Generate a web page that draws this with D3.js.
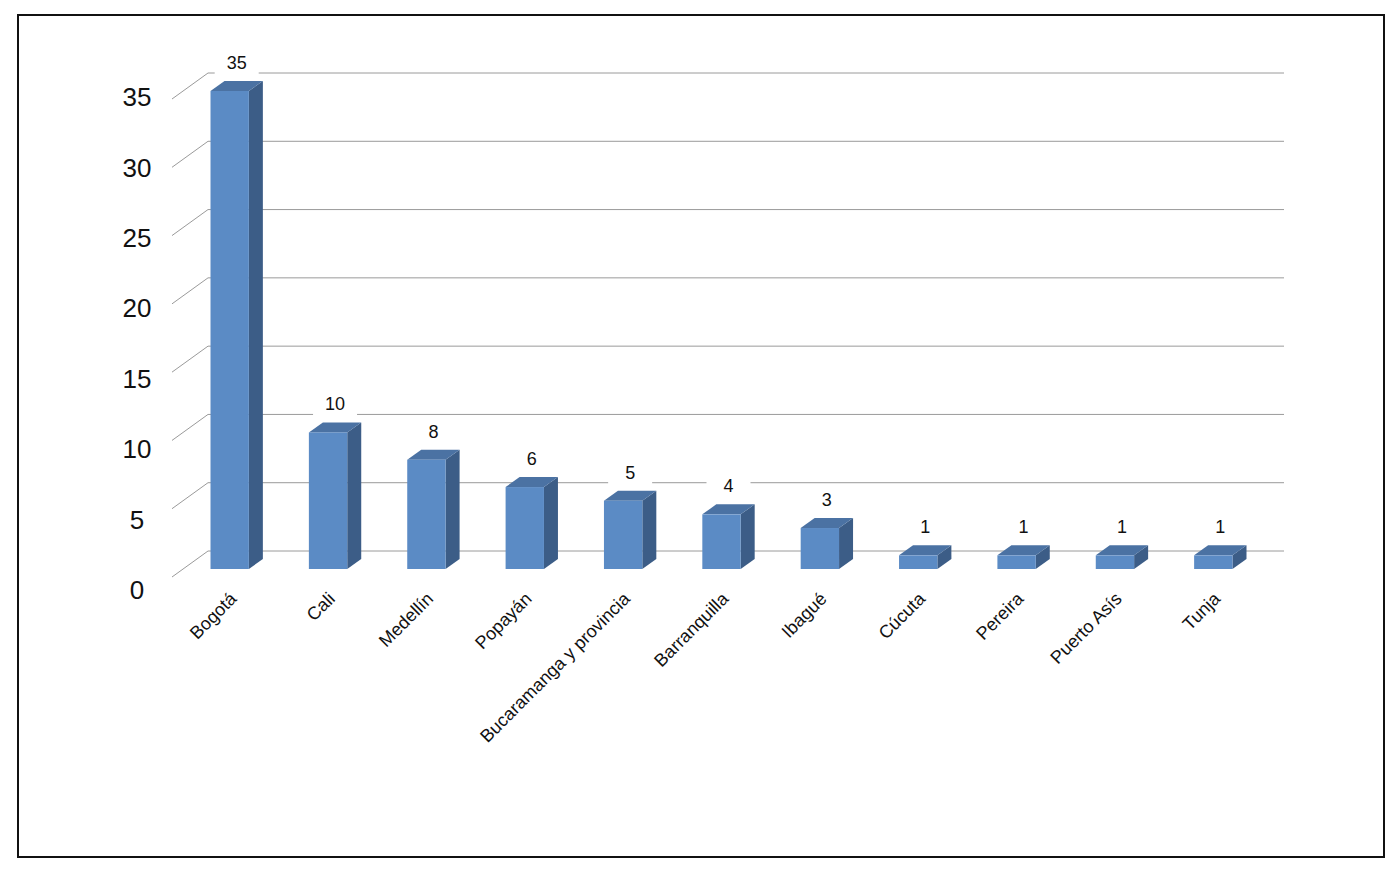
<!DOCTYPE html>
<html><head><meta charset="utf-8">
<script src="https://cdn.jsdelivr.net/npm/d3@7"></script>
<style>body{margin:0;background:#fff}text{font-family:"Liberation Sans",Arial,sans-serif}</style>
</head><body>
<script>
var cities = ["Bogotá","Cali","Medellín","Popayán","Bucaramanga y provincia","Barranquilla","Ibagué","Cúcuta","Pereira","Puerto Asís","Tunja"];
var counts = [35,10,8,6,5,4,3,1,1,1,1];
var yTicks = [0,5,10,15,20,25,30,35];

var svg = d3.select("body").append("svg").attr("width",1400).attr("height",877);
svg.append("rect").attr("x",18).attr("y",15).attr("width",1366).attr("height",842)
  .attr("fill","none").attr("stroke","#111").attr("stroke-width",2);

var dx = 14, dy = -10, wallDx = 36, wallDy = -18;
var x = d3.scaleBand().domain(cities).range([181,1262]).paddingInner(0.61).paddingOuter(0.3);
var y = d3.scaleLinear().domain([0,35]).range([569,91]);
var yLab = d3.scaleLinear().domain([0,35]).range([590,97]);

// back wall gridlines and diagonal ticks
yTicks.forEach(function(v){
  svg.append("line").attr("x1",172+wallDx).attr("x2",1284)
    .attr("y1",y(v)+wallDy).attr("y2",y(v)+wallDy).attr("stroke","#9a9a9a").attr("stroke-width",1);
  svg.append("line").attr("x1",172).attr("y1",y(v)+8).attr("x2",172+wallDx).attr("y2",y(v)+wallDy)
    .attr("stroke","#9a9a9a").attr("stroke-width",1);
  svg.append("text").attr("x",137).attr("y",yLab(v)).attr("dy","0.35em").attr("text-anchor","middle")
    .attr("font-size",26).attr("fill","#111").text(v);
});

var g = svg.append("g");
cities.forEach(function(c,i){
  var x0 = x(c), w = x.bandwidth(), yt = y(counts[i]), yb = y(0);
  g.append("path").attr("d",`M${x0+w},${yt}L${x0+w+dx},${yt+dy}L${x0+w+dx},${yb+dy}L${x0+w},${yb}Z`).attr("fill","#3c5d87");
  g.append("path").attr("d",`M${x0},${yt}L${x0+dx},${yt+dy}L${x0+w+dx},${yt+dy}L${x0+w},${yt}Z`).attr("fill","#4b72a3");
  g.append("rect").attr("x",x0).attr("y",yt).attr("width",w).attr("height",yb-yt).attr("fill","#5b8bc5");
  var lx = x0+w/2+dx/2, ly = yt-22;
  g.append("rect").attr("x",lx-22).attr("y",ly-14).attr("width",44).attr("height",22).attr("fill","#fff");
  g.append("text").attr("x",lx).attr("y",ly).attr("text-anchor","middle").attr("font-size",18).attr("fill","#111").text(counts[i]);
  g.append("text").attr("transform",`translate(${x0+w/2+8},${600}) rotate(-45)`).attr("text-anchor","end")
    .attr("font-size",18).attr("fill","#111").text(c);
});
</script>
</body></html>
